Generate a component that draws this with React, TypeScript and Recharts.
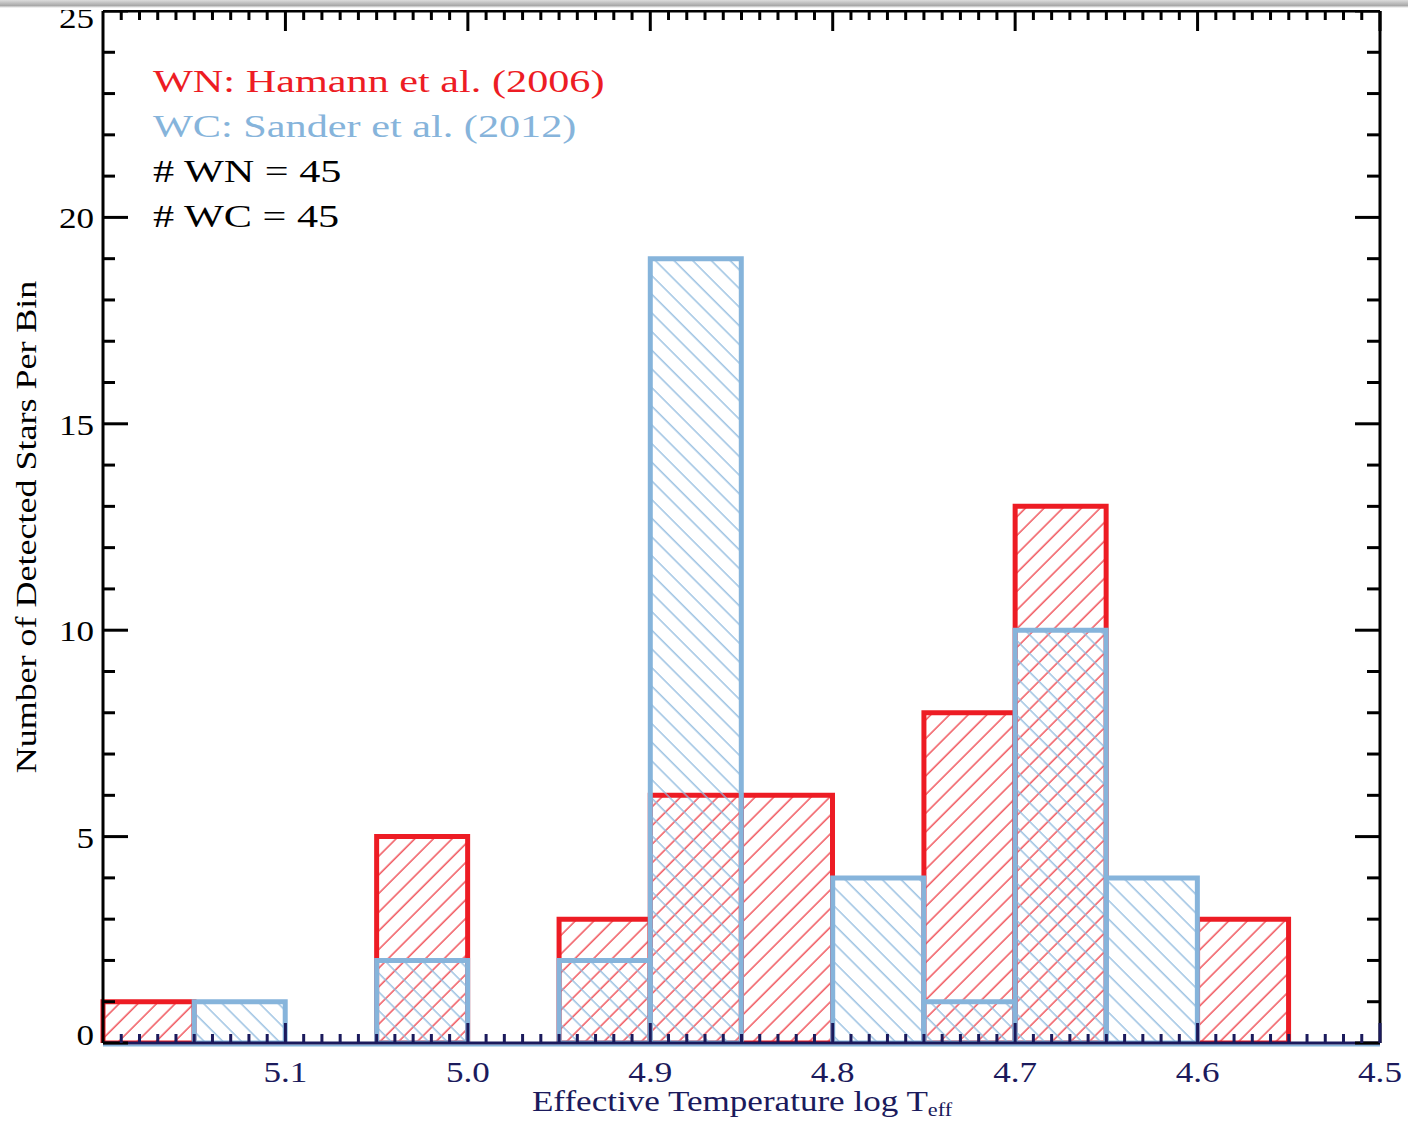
import React from 'react';
import { BarChart, Bar, XAxis, YAxis, ReferenceLine } from 'recharts';

const RED = '#ED1C24';
const BLUE = '#86B4DB';
const NAVY = '#1B1A5C';
const SERIF = '"Liberation Serif", "Times New Roman", serif';

// histogram bins of log Teff (width 0.05), left to right since the axis runs 5.2 -> 4.5
const binStart = [5.2, 5.15, 5.1, 5.05, 5.0, 4.95, 4.9, 4.85, 4.8, 4.75, 4.7, 4.65, 4.6, 4.55];
const wnCounts = [1, 0, 0, 5, 0, 3, 6, 6, 0, 8, 13, 0, 3, 0];
const wcCounts = [0, 1, 0, 2, 0, 2, 19, 0, 4, 1, 10, 4, 0, 0];

const xMajorTicks = [5.1, 5.0, 4.9, 4.8, 4.7, 4.6, 4.5];
const xTickLabels = ['5.1', '5.0', '4.9', '4.8', '4.7', '4.6', '4.5'];
const yMajorTicks = [0, 5, 10, 15, 20, 25];
const yTickLabels = ['0', '5', '10', '15', '20', '25'];

const legendLines = [
  { text: 'WN: Hamann et al. (2006)', color: RED },
  { text: 'WC: Sander et al. (2012)', color: BLUE },
  { text: '# WN = 45', color: '#000' },
  { text: '# WC = 45', color: '#000' },
];

const data = binStart.map((b, i) => ({ bin: b.toFixed(2), logT: b, wn: wnCounts[i], wc: wcCounts[i] }));

// minor tick marks: every 0.01 in x, every 1 in y
const xTicks = [...Array.from({ length: 69 }, (_, i) => +(5.19 - i * 0.01).toFixed(2)), 4.5];
const yTicks = Array.from({ length: 26 }, (_, i) => i);

const xMajorIndex = (v: number) => xMajorTicks.findIndex((m) => Math.abs(m - v) < 1e-6);

function BottomTick(props: any) {
  const { x, y, payload } = props;
  const idx = xMajorIndex(payload.value);
  return (
    <g>
      <line x1={x} y1={y} x2={x} y2={y - (idx >= 0 ? 20 : 9)} stroke={NAVY} strokeWidth={3} />
      {idx >= 0 && (
        <text transform={`translate(${x} ${y + 39}) scale(1.17 1)`} textAnchor="middle" fill={NAVY} fontSize={30} fontFamily={SERIF}>
          {xTickLabels[idx]}
        </text>
      )}
    </g>
  );
}

function TopTick(props: any) {
  const { x, y, payload } = props;
  const major = xMajorIndex(payload.value) >= 0;
  return <line x1={x} y1={y} x2={x} y2={y + (major ? 20 : 9)} stroke="#000" strokeWidth={3} />;
}

function LeftTick(props: any) {
  const { x, y, payload } = props;
  const idx = yMajorTicks.indexOf(payload.value);
  // IDL nudged the end labels inwards
  const dy = payload.value === 0 ? 2 : payload.value === 25 ? 17 : 11;
  return (
    <g>
      <line x1={x} y1={y} x2={x + (idx >= 0 ? 25 : 12)} y2={y} stroke="#000" strokeWidth={3} />
      {idx >= 0 && (
        <text transform={`translate(${x - 9} ${y + dy}) scale(1.17 1)`} textAnchor="end" fill="#000" fontSize={30} fontFamily={SERIF}>
          {yTickLabels[idx]}
        </text>
      )}
    </g>
  );
}

function RightTick(props: any) {
  const { x, y, payload } = props;
  const major = yMajorTicks.indexOf(payload.value) >= 0;
  return <line x1={x} y1={y} x2={x - (major ? 25 : 13)} y2={y} stroke="#000" strokeWidth={3} />;
}

export default function App() {
  return (
    <div style={{ position: 'relative', width: 1408, height: 1122, background: '#fff', overflow: 'hidden' }}>
      <style>{'body{margin:0}'}</style>
      <svg width={0} height={0} style={{ position: 'absolute' }}>
        <defs>
          <pattern id="hatchWN" patternUnits="userSpaceOnUse" width={13.2} height={13.2} patternTransform="rotate(45)">
            <line x1={2} y1={0} x2={2} y2={13.2} stroke="#EE3A42" strokeWidth={1.3} />
          </pattern>
          <pattern id="hatchWC" patternUnits="userSpaceOnUse" width={13.2} height={13.2} patternTransform="rotate(-45)">
            <line x1={2} y1={0} x2={2} y2={13.2} stroke="#8DB9DE" strokeWidth={1.3} />
          </pattern>
        </defs>
      </svg>

      <BarChart width={1408} height={1122} data={data} margin={{ top: 0, right: 0, bottom: 0, left: 0 }} barCategoryGap={0} barGap={0}>
        <XAxis xAxisId="wn" dataKey="bin" type="category" hide />
        <XAxis xAxisId="wc" dataKey="bin" type="category" hide />
        <YAxis
          yAxisId="left"
          type="number"
          domain={[0, 25]}
          allowDataOverflow
          ticks={yTicks}
          interval={0}
          width={103}
          tickSize={0}
          tickMargin={0}
          tickLine={false}
          axisLine={{ stroke: '#000', strokeWidth: 3 }}
          tick={(p: any) => <LeftTick {...p} />}
        />
        <YAxis
          yAxisId="right"
          orientation="right"
          type="number"
          domain={[0, 25]}
          allowDataOverflow
          ticks={yTicks}
          interval={0}
          width={28}
          tickSize={0}
          tickMargin={0}
          tickLine={false}
          axisLine={{ stroke: '#000', strokeWidth: 3 }}
          tick={(p: any) => <RightTick {...p} />}
        />
        <Bar xAxisId="wn" yAxisId="left" dataKey="wn" fill="url(#hatchWN)" stroke={RED} strokeWidth={5} isAnimationActive={false} />
        <Bar xAxisId="wc" yAxisId="left" dataKey="wc" fill="url(#hatchWC)" stroke={BLUE} strokeWidth={5} isAnimationActive={false} />
        <ReferenceLine
          xAxisId="wn"
          yAxisId="left"
          y={0}
          shape={(p: any) => <line x1={p.x1} y1={p.y1 + 2.5} x2={p.x2} y2={p.y2 + 2.5} stroke={BLUE} strokeWidth={2} />}
        />
        <XAxis
          xAxisId="top"
          orientation="top"
          dataKey="logT"
          type="number"
          domain={[4.5, 5.2]}
          reversed
          allowDataOverflow
          ticks={xTicks}
          interval={0}
          height={11}
          tickSize={0}
          tickMargin={0}
          tickLine={false}
          axisLine={{ stroke: '#000', strokeWidth: 3 }}
          tick={(p: any) => <TopTick {...p} />}
        />
        <XAxis
          xAxisId="bottom"
          orientation="bottom"
          dataKey="logT"
          type="number"
          domain={[4.5, 5.2]}
          reversed
          allowDataOverflow
          ticks={xTicks}
          interval={0}
          height={79}
          tickSize={0}
          tickMargin={0}
          tickLine={false}
          axisLine={{ stroke: NAVY, strokeWidth: 3 }}
          tick={(p: any) => <BottomTick {...p} />}
        />
      </BarChart>

      <svg width={1408} height={1122} style={{ position: 'absolute', left: 0, top: 0, pointerEvents: 'none' }}>
        {legendLines.map((l, i) => (
          <text key={l.text} transform={`translate(153 ${92 + i * 45}) scale(1.32 1)`} fill={l.color} fontSize={32} fontFamily={SERIF}>
            {l.text}
          </text>
        ))}
        <text transform="translate(742 1111) scale(1.17 1)" textAnchor="middle" fill={NAVY} fontSize={30} fontFamily={SERIF}>
          Effective Temperature log T
          <tspan fontSize={19} dy={5}>eff</tspan>
        </text>
        <text transform="translate(36 527) rotate(-90) scale(1.2 1)" textAnchor="middle" fill="#000" fontSize={30} fontFamily={SERIF}>
          Number of Detected Stars Per Bin
        </text>
      </svg>
      <div
        style={{
          position: 'absolute',
          left: 0,
          top: 0,
          width: 1408,
          height: 10,
          background: 'linear-gradient(#dcdcdc, #a9a9a9 55%, #ffffff 80%)',
        }}
      />
    </div>
  );
}
